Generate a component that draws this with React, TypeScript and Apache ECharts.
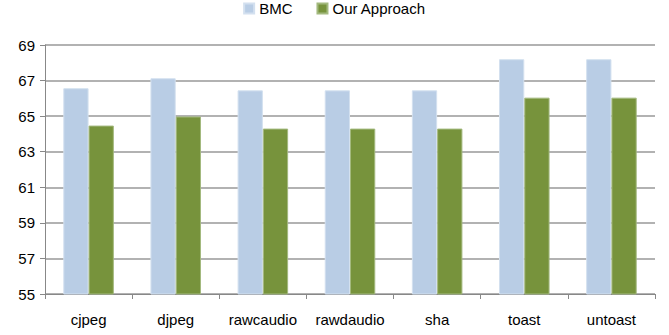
import React, { useEffect, useRef } from "react";
import * as echarts from "echarts";

const categories = ["cjpeg", "djpeg", "rawcaudio", "rawdaudio", "sha", "toast", "untoast"];
const bmcValues = [66.57, 67.13, 66.45, 66.45, 66.45, 68.2, 68.2];
const ourValues = [64.47, 64.98, 64.3, 64.3, 64.3, 66.04, 66.04];
const yTicks = { min: 55, max: 69, interval: 2 };

export default function App() {
  const ref = useRef<HTMLDivElement>(null);
  useEffect(() => {
    const chart = echarts.init(ref.current!, null, { renderer: "svg" });
    const font = "Liberation Sans";
    chart.setOption({
      animation: false,
      textStyle: { fontFamily: font },
      legend: {
        top: 1,
        left: "center",
        padding: [0, 5],
        itemWidth: 10,
        itemHeight: 10,
        itemGap: 24,
        icon: "rect",
        textStyle: { fontSize: 15, color: "#000", fontFamily: font },
        data: ["BMC", "Our Approach"],
      },
      grid: { left: 45, right: 14, top: 45, bottom: 41, containLabel: false },
      xAxis: {
        type: "category",
        data: categories,
        axisLine: { lineStyle: { color: "#888" } },
        axisTick: { show: true, length: 5, lineStyle: { color: "#888" } },
        axisLabel: { fontSize: 15, color: "#000", margin: 18, fontFamily: font, interval: 0 },
      },
      yAxis: {
        type: "value",
        min: yTicks.min,
        max: yTicks.max,
        interval: yTicks.interval,
        axisLine: { show: true, lineStyle: { color: "#888" } },
        axisTick: { show: true, length: 5, lineStyle: { color: "#888" } },
        axisLabel: { fontSize: 15, color: "#000", margin: 10, fontFamily: font },
        splitLine: { lineStyle: { color: "#999", width: 1.5 } },
      },
      series: [
        {
          name: "BMC",
          type: "bar",
          data: bmcValues,
          barGap: "0%",
          barCategoryGap: "42%",
          itemStyle: { color: "#B9CDE5", borderColor: "#D3E0EF", borderWidth: 1 },
        },
        {
          name: "Our Approach",
          type: "bar",
          data: ourValues,
          itemStyle: { color: "#77933C", borderColor: "#A3B97E", borderWidth: 1 },
        },
      ],
    });
    return () => chart.dispose();
  }, []);
  return <div ref={ref} style={{ width: 669, height: 335, position: "absolute", left: 0, top: 0 }} />;
}
